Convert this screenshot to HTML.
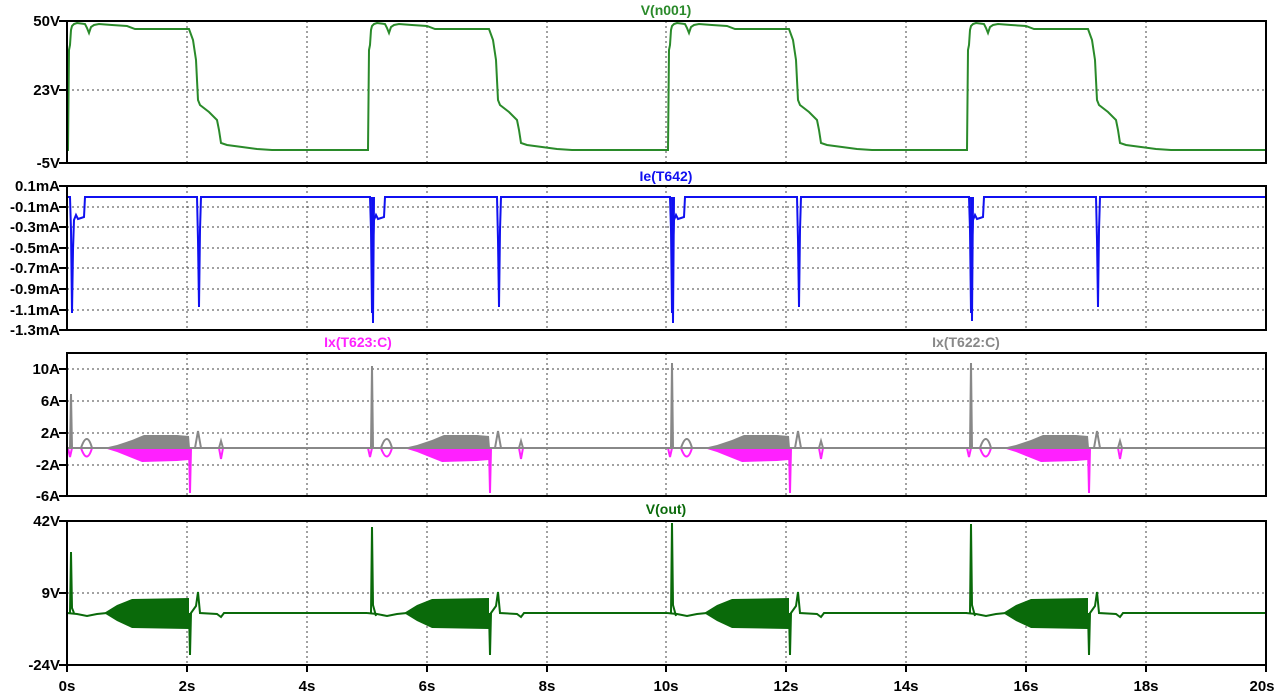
<!DOCTYPE html>
<html><head><meta charset="utf-8"><style>
html,body{margin:0;padding:0;background:#fff;}
svg{display:block;font-family:"Liberation Sans",Arial,sans-serif;font-weight:bold;}
</style></head><body>
<svg width="1280" height="696" viewBox="0 0 1280 696" xmlns="http://www.w3.org/2000/svg">
<defs>
<g id="c1" fill="none" stroke="#2a8a2a" stroke-width="2">
<path d="M0,150 L1,150 L2,50 L3,45 L4,30 L5,26 L7,24 L10,23 L18,24 L20,28 L22,33 L24,27 L27,25 L32,24 L45,25 L60,26 L68,29 L122,29 L126,40 L129,60 L131,100 L133,105 L142,112 L150,120 L152,130 L154,143 L160,145 L175,147 L190,149 L205,150 L300,150"/>
</g>
<g id="c2" fill="none" stroke="#1010f0" stroke-width="2">
<path d="M0,197 L3,197 L4,230 L5,313 L6,250 L7,220 L9,215 L11,219 L14,218 L17,217 L18,197 L130,197 L131,240 L132,307 L133,230 L134,197 L300,197"/>
</g>
<g id="c3">
<path d="M37,448 L50,445 L65,440 L77,435 L110,435 L122,436 L123,448 Z" fill="#888"/>
<path d="M37,448 L50,452 L65,458 L75,462 L110,461 L122,460 L123,448 Z" fill="#ff20ff"/>
<path d="M122,448 L123,493 L124,448" fill="none" stroke="#ff20ff" stroke-width="2"/>
<path d="M14,448 Q20,465 25,448 M152,448 L154,459 L156,448 M1,448 L3,457 L5,448" fill="none" stroke="#ff20ff" stroke-width="2"/>
<path d="M14,448 Q20,430 25,448 M128,448 L131,431 L134,448 M152,448 L154,441 L156,448" fill="none" stroke="#888" stroke-width="2"/>
</g>
<g id="c4">
<path d="M37,613 L50,605 L65,599 L122,598 L122,629 L65,628 L50,621 Z" fill="#0a6a0a"/>
<path d="M0,613 L10,614 L20,616 L30,614 L40,613 M122,613 L123,655 L124,613 L129,606 L131,592 L133,613 L150,614 L154,617 L157,613 L300,613" fill="none" stroke="#0a6a0a" stroke-width="2"/>
</g>
</defs>
<!-- grid -->
<g stroke="#444" stroke-width="1" stroke-dasharray="2,3">
<path d="M187,21V163M307,21V163M427,21V163M547,21V163M666,21V163M786,21V163M906,21V163M1026,21V163M1146,21V163"/>
<path d="M187,186V330M307,186V330M427,186V330M547,186V330M666,186V330M786,186V330M906,186V330M1026,186V330M1146,186V330"/>
<path d="M187,353V496M307,353V496M427,353V496M547,353V496M666,353V496M786,353V496M906,353V496M1026,353V496M1146,353V496"/>
<path d="M187,521V665M307,521V665M427,521V665M547,521V665M666,521V665M786,521V665M906,521V665M1026,521V665M1146,521V665"/>
<path d="M67,90H1266M67,207H1266M67,227H1266M67,248H1266M67,268H1266M67,289H1266M67,310H1266M67,369H1266M67,401H1266M67,433H1266M67,465H1266M67,593H1266"/>
</g>
<!-- series -->
<use href="#c1" x="67"/><use href="#c1" x="367"/><use href="#c1" x="667"/><use href="#c1" x="966"/>
<rect x="1266" y="140" width="2" height="20" fill="#fff"/>
<use href="#c2" x="67"/><use href="#c2" x="367"/><use href="#c2" x="667"/><use href="#c2" x="966"/>
<path d="M372,197 L373,323 L374,197 M672,197 L673,323 L674,197 M971,197 L972,321 L973,197" stroke="#1010f0" stroke-width="2" fill="none"/>
<use href="#c3" x="67"/><use href="#c3" x="367"/><use href="#c3" x="667"/><use href="#c3" x="966"/>
<path d="M67,448H1266" stroke="#888" stroke-width="2"/>
<path d="M70,448 L71,394 L72,448 M371,448 L372,366 L373,448 M671,448 L672,363 L673,448 M970,448 L971,363 L972,448" stroke="#888" stroke-width="2" fill="none"/>
<use href="#c4" x="67"/><use href="#c4" x="367"/><use href="#c4" x="667"/><use href="#c4" x="966"/>
<path d="M70,613 L71,552 L72,608 L74,613 M371,613 L372,527 L373,605 L376,616 M671,613 L672,523 L673,605 L676,616 M970,613 L971,524 L972,605 L975,616" stroke="#0a6a0a" stroke-width="2" fill="none"/>
<!-- frames -->
<g fill="none" stroke="#000" stroke-width="2">
<rect x="67" y="21" width="1199" height="142"/>
<rect x="67" y="186" width="1199" height="144"/>
<rect x="67" y="353" width="1199" height="143"/>
<rect x="67" y="521" width="1199" height="144"/>
<path d="M59,21H67M59,90H67M59,163H67M59,186H67M59,207H67M59,227H67M59,248H67M59,268H67M59,289H67M59,310H67M59,330H67M59,369H67M59,401H67M59,433H67M59,465H67M59,496H67M59,521H67M59,593H67M59,665H67"/>
<path d="M67,665V672M187,665V672M307,665V672M427,665V672M547,665V672M666,665V672M786,665V672M906,665V672M1026,665V672M1146,665V672M1266,665V672"/>
</g>
<!-- labels -->
<g font-size="15" text-anchor="end" fill="#000">
<text x="60" y="26">50V</text><text x="60" y="95">23V</text><text x="60" y="168">-5V</text>
<text x="60" y="191">0.1mA</text><text x="60" y="212">-0.1mA</text><text x="60" y="232">-0.3mA</text><text x="60" y="253">-0.5mA</text><text x="60" y="273">-0.7mA</text><text x="60" y="294">-0.9mA</text><text x="60" y="315">-1.1mA</text><text x="60" y="335">-1.3mA</text>
<text x="60" y="374">10A</text><text x="60" y="406">6A</text><text x="60" y="438">2A</text><text x="60" y="470">-2A</text><text x="60" y="501">-6A</text>
<text x="60" y="526">42V</text><text x="60" y="598">9V</text><text x="60" y="670">-24V</text>
</g>
<g font-size="15" text-anchor="middle" fill="#000">
<text x="67" y="691">0s</text><text x="187" y="691">2s</text><text x="307" y="691">4s</text><text x="427" y="691">6s</text><text x="547" y="691">8s</text><text x="666" y="691">10s</text><text x="786" y="691">12s</text><text x="906" y="691">14s</text><text x="1026" y="691">16s</text><text x="1146" y="691">18s</text><text x="1262" y="691">20s</text>
</g>
<g font-size="14" text-anchor="middle">
<text x="666" y="15" fill="#2a8a2a">V(n001)</text>
<text x="666" y="181" fill="#1010f0">Ie(T642)</text>
<text x="358" y="347" fill="#ff20ff">Ix(T623:C)</text>
<text x="966" y="347" fill="#888">Ix(T622:C)</text>
<text x="666" y="514" fill="#0a6a0a">V(out)</text>
</g>
</svg>
</body></html>
